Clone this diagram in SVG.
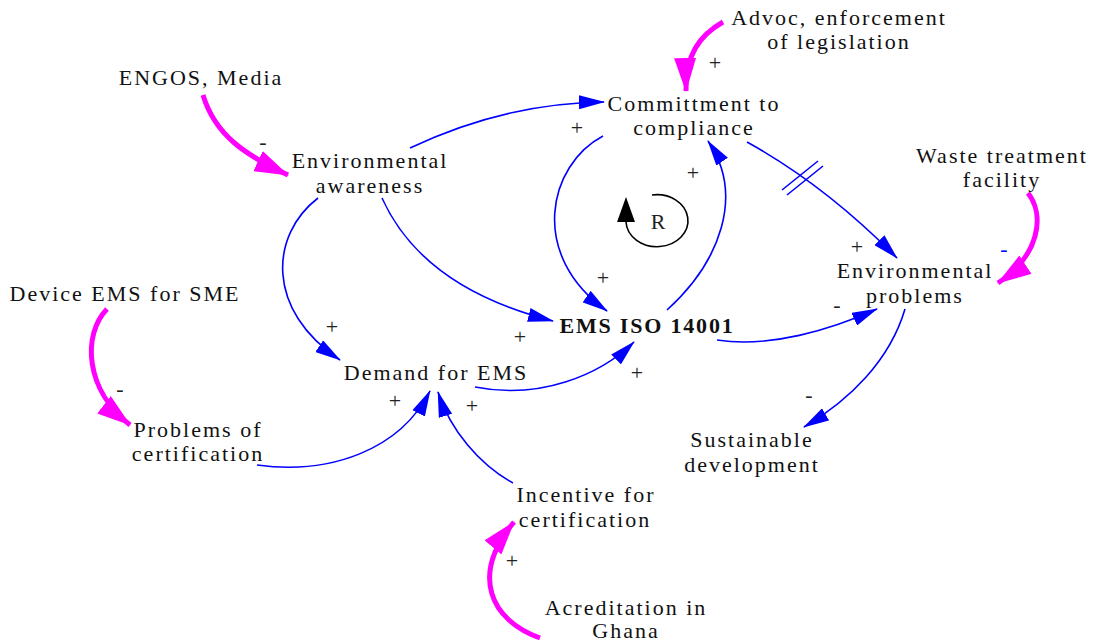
<svg xmlns="http://www.w3.org/2000/svg" width="1094" height="642" viewBox="0 0 1094 642">
<style>
.t{font-family:'Liberation Serif','Times New Roman','DejaVu Serif',serif;font-size:22px;fill:#111;text-anchor:middle;letter-spacing:2px}
.b{font-weight:bold;letter-spacing:1.8px}
.s{font-family:'Liberation Serif','Times New Roman','DejaVu Serif',serif;font-size:22px;fill:#222;text-anchor:middle}
.bl{fill:none;stroke:#0000ff;stroke-width:1.6;marker-end:url(#ab)}
.mg{fill:none;stroke:#ff00ff;stroke-width:5;marker-end:url(#am)}
</style>
<defs>
<marker id="ab" markerUnits="userSpaceOnUse" viewBox="0 0 26 14" refX="25" refY="7" markerWidth="26" markerHeight="14" orient="auto"><path d="M0,0 L26,7 L0,14 z" fill="#0000ff"/></marker>
<marker id="am" markerUnits="userSpaceOnUse" viewBox="0 0 34 22" refX="33" refY="11" markerWidth="34" markerHeight="22" orient="auto"><path d="M0,0 L34,11 L0,22 z" fill="#ff00ff"/></marker>
</defs>
<rect width="1094" height="642" fill="#fff"/>
<g id="connectors">
<path class="bl" d="M410,148 Q505,103 604,102"/>
<path class="bl" d="M603,136 C548,165 528,255 607,311"/>
<path class="bl" d="M667,310 C720,262 745,195 708,141"/>
<path class="bl" d="M747,142 Q825,185 897,258"/>
<path d="M782,190 L818,161 M787,195 L823,166" stroke="#0000ff" stroke-width="1.6" fill="none"/>
<path class="bl" d="M382,198 C410,260 470,300 553,321"/>
<path class="bl" d="M318,198 C270,235 265,310 340,360"/>
<path class="bl" d="M475,387 C540,400 600,375 634,342"/>
<path class="bl" d="M717,340 C770,348 830,330 877,309"/>
<path class="bl" d="M905,309 C890,360 850,400 804,427"/>
<path class="bl" d="M257,465 C330,475 400,450 430,391"/>
<path class="bl" d="M513,483 C480,465 450,430 438,392"/>
<path class="mg" d="M723,22 C700,35 685,55 686,91"/>
<path class="mg" d="M203,95 C215,135 245,155 288,175"/>
<path class="mg" d="M1028,193 C1045,215 1040,255 998,283"/>
<path class="mg" d="M107,309 C82,335 85,390 130,425"/>
<path class="mg" d="M540,638 C490,620 470,575 514,522"/>
<g id="loop-R">
<path d="M652,195 A31,26 0 1 1 626,222" fill="none" stroke="#000" stroke-width="1.6"/>
<path d="M626,197 L617,222 L635,222 z" fill="#000"/>
<text class="s" x="658" y="229">R</text>
</g>
<text class="s" x="577" y="135">+</text>
<text class="s" x="715" y="70">+</text>
<text class="s" x="263" y="149">-</text>
<text class="s" x="693" y="180">+</text>
<text class="s" x="603" y="285">+</text>
<text class="s" x="857" y="254">+</text>
<text class="s" x="1004" y="256" style="fill:#0000ff">-</text>
<text class="s" x="332" y="334">+</text>
<text class="s" x="520" y="344">+</text>
<text class="s" x="837" y="312">-</text>
<text class="s" x="637" y="380">+</text>
<text class="s" x="809" y="402">-</text>
<text class="s" x="120" y="396">-</text>
<text class="s" x="395" y="408">+</text>
<text class="s" x="472" y="413">+</text>
<text class="s" x="512" y="568">+</text>
</g>
<g id="advoc"><text class="t" x="839" y="25">Advoc, enforcement</text><text class="t" x="839" y="49">of legislation</text></g>
<g id="engos"><text class="t" x="201" y="85">ENGOS, Media</text></g>
<g id="commitment"><text class="t" x="694" y="111">Committment to</text><text class="t" x="694" y="135">compliance</text></g>
<g id="env-awareness"><text class="t" x="370" y="168">Environmental</text><text class="t" x="370" y="193">awareness</text></g>
<g id="waste"><text class="t" x="1002" y="163">Waste treatment</text><text class="t" x="1002" y="187">facility</text></g>
<g id="env-problems"><text class="t" x="915" y="278">Environmental</text><text class="t" x="915" y="303">problems</text></g>
<g id="device"><text class="t" x="125" y="301">Device EMS for SME</text></g>
<g id="ems-iso"><text class="t b" x="647" y="333">EMS ISO 14001</text></g>
<g id="demand"><text class="t" x="436" y="380">Demand for EMS</text></g>
<g id="problems-cert"><text class="t" x="198" y="437">Problems of</text><text class="t" x="198" y="461">certification</text></g>
<g id="sustainable"><text class="t" x="752" y="447">Sustainable</text><text class="t" x="752" y="472">development</text></g>
<g id="incentive"><text class="t" x="586" y="502">Incentive for</text><text class="t" x="585" y="527">certification</text></g>
<g id="acreditation"><text class="t" x="626" y="615">Acreditation in</text><text class="t" x="626" y="638">Ghana</text></g>
</svg>
